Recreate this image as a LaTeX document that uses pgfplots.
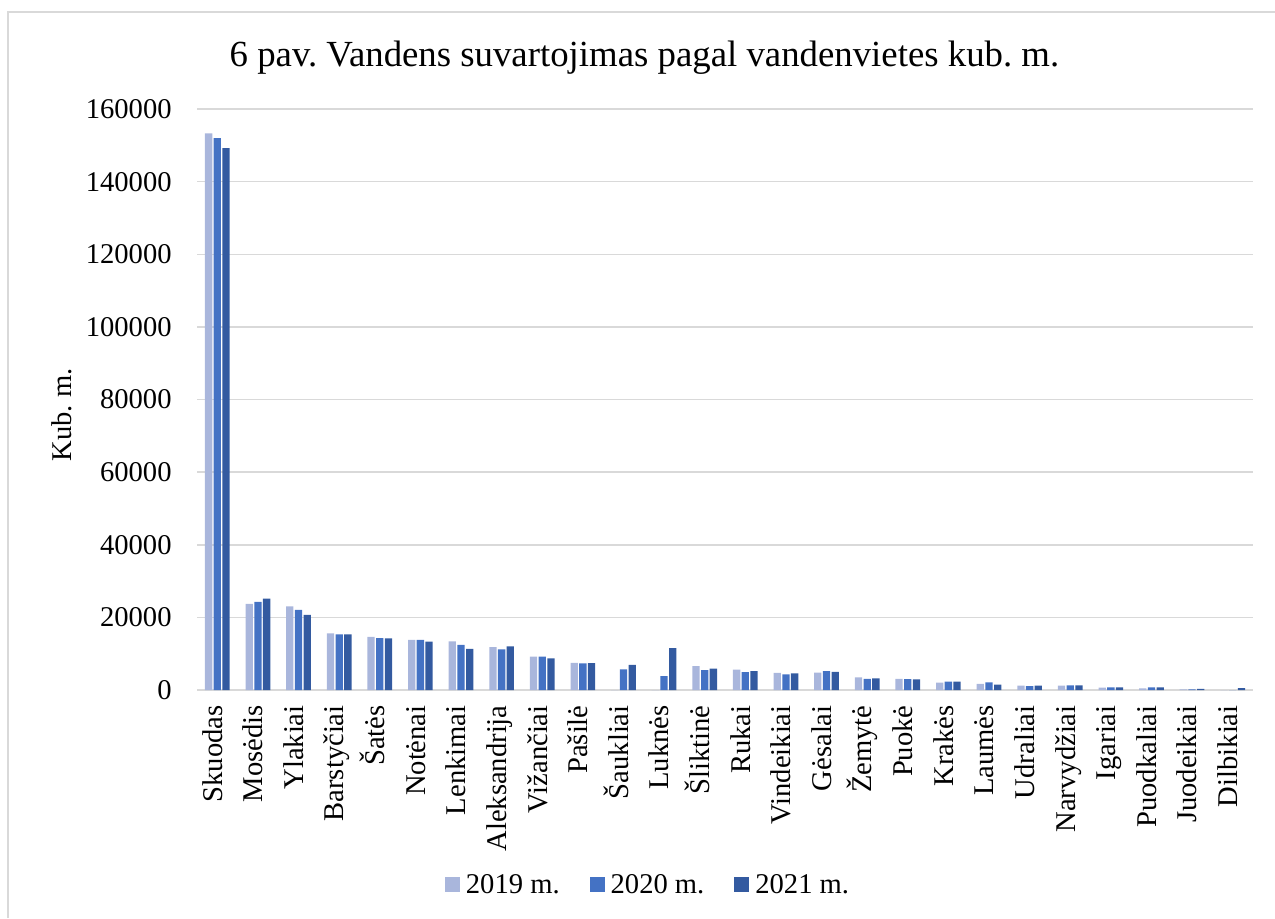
\documentclass[border=0pt]{standalone}
\usepackage{pgfplots}
\pgfplotsset{compat=1.18}
\usepackage{fontspec}
\setmainfont{Liberation Serif}
\frenchspacing

\definecolor{c19}{HTML}{A9B6DC}
\definecolor{c20}{HTML}{4472C4}
\definecolor{c21}{HTML}{335AA0}
\definecolor{gridgray}{HTML}{D9D9D9}

\newcommand{\lbl}{\fontsize{14.3}{17}\selectfont}

\begin{document}
\begin{tikzpicture}
\useasboundingbox (0,0) rectangle (637.5pt,459pt);
\draw[gridgray, line width=1pt] (4pt,0) -- (4pt,453pt) -- (637.5pt,453pt);
\node[anchor=base, font=\fontsize{18.4}{22}\selectfont] at (322.25pt,425.5pt)
  {6 pav. Vandens suvartojimas pagal vandenvietes kub. m.};
\node[rotate=90, font=\lbl] at (31pt,251.5pt) {Kub. m.};

\begin{axis}[
    at={(98.5pt,114pt)}, anchor=south west,
    scale only axis,
    width=528pt, height=290.5pt,
    ybar=0.7pt, bar width=3.65pt,
    xmin=-0.5, xmax=25.5,
    ymin=0, ymax=160000,
    ytick={0,20000,...,160000},
    xtick={0,...,25},
    xticklabels={Skuodas,Mosėdis,Ylakiai,Barstyčiai,Šatės,Notėnai,Lenkimai,Aleksandrija,Vižančiai,Pašilė,Šaukliai,Luknės,Šliktinė,Rukai,Vindeikiai,Gėsalai,Žemytė,Puokė,Krakės,Laumės,Udraliai,Narvydžiai,Igariai,Puodkaliai,Juodeikiai,Dilbikiai},
    scaled y ticks=false,
    /pgf/number format/assume math mode=true,
    yticklabel={\pgfmathprintnumber[fixed,1000 sep={}]{\tick}},
    axis line style={draw=none},
    major tick length=0pt,
    ymajorgrids,
    grid style={gridgray, line width=0.75pt},
    tick label style={font=\lbl},
    yticklabel style={anchor=east, inner sep=0pt, inner xsep=12.5pt},
    xticklabel style={rotate=90, anchor=east, inner sep=0pt, inner xsep=7.5pt,
      text height=0.68em, text depth=0.2em},
    legend image code/.code={\fill[#1] (0pt,-3.75pt) rectangle (7.5pt,3.75pt);},
    legend columns=3,
    legend style={at={(axis description cs:0.429,-0.3356)}, anchor=center,
      draw=none, fill=none, font=\lbl,
      nodes={inner xsep=3pt},
      /tikz/every even column/.append style={column sep=12pt}},
  ]
\addplot[fill=c19, draw=none] coordinates {
 (0,153300) (1,23700) (2,23000) (3,15600) (4,14600) (5,13800) (6,13400)
 (7,11800) (8,9200) (9,7500) (10,0) (11,0) (12,6600) (13,5600) (14,4700)
 (15,4800) (16,3500) (17,3100) (18,2000) (19,1700) (20,1200) (21,1200)
 (22,650) (23,450) (24,200) (25,0)};
\addplot[fill=c20, draw=none] coordinates {
 (0,152000) (1,24300) (2,22100) (3,15300) (4,14300) (5,13800) (6,12400)
 (7,11200) (8,9200) (9,7300) (10,5700) (11,3800) (12,5500) (13,4900) (14,4300)
 (15,5200) (16,3100) (17,3000) (18,2300) (19,2100) (20,1100) (21,1300)
 (22,750) (23,750) (24,200) (25,0)};
\addplot[fill=c21, draw=none] coordinates {
 (0,149200) (1,25200) (2,20700) (3,15300) (4,14200) (5,13300) (6,11300)
 (7,12000) (8,8700) (9,7400) (10,6900) (11,11500) (12,5900) (13,5200) (14,4600)
 (15,5000) (16,3200) (17,2900) (18,2300) (19,1500) (20,1200) (21,1300)
 (22,700) (23,750) (24,300) (25,500)};
\legend{2019 m.,2020 m.,2021 m.}
\end{axis}
\end{tikzpicture}
\end{document}
